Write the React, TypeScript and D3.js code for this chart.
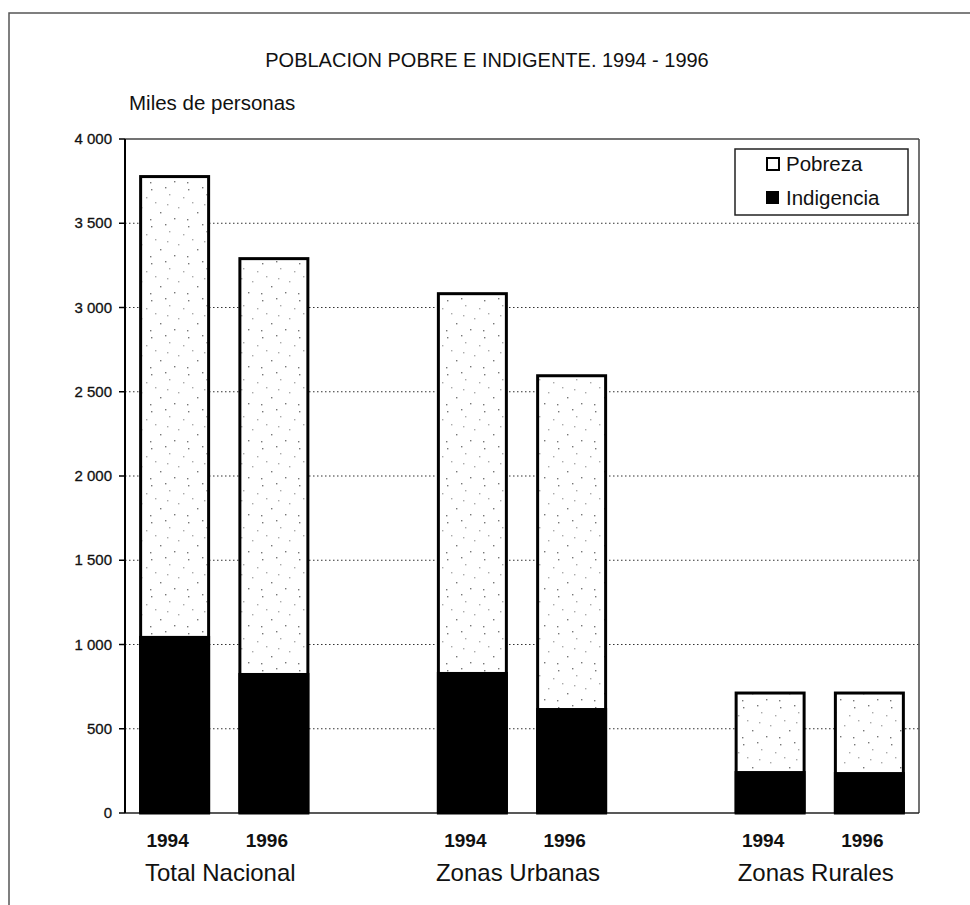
import React from "react";
import * as d3 from "d3";

const groups = ["Total Nacional", "Zonas Urbanas", "Zonas Rurales"];
const years = ["1994", "1996"];
// miles de personas, in order: group x year
const pobreza = [3777, 3290, 3082, 2595, 712, 712];
const indigencia = [1051, 831, 837, 623, 249, 243];
const yTicks = [0, 500, 1000, 1500, 2000, 2500, 3000, 3500, 4000];

const W = 970;
const H = 905;
const left = 125;
const right = 919;
const top = 139;
const bottom = 813;
const font = "'Liberation Sans', Arial, sans-serif";

// Excel-like category slots, with an empty slot between the groups
const slots: string[] = [];
groups.forEach((g, gi) => {
  years.forEach((y) => slots.push(g + "|" + y));
  if (gi < groups.length - 1) slots.push("gap" + gi);
});
const bars = groups.flatMap((g, gi) =>
  years.map((y, yi) => ({
    key: g + "|" + y,
    year: y,
    pob: pobreza[gi * years.length + yi],
    ind: indigencia[gi * years.length + yi],
  }))
);

const fmt = (v: number) => d3.format(",")(v).replace(",", " ");

const App = () => {
  const x = d3
    .scaleBand()
    .domain(slots)
    .range([left, right])
    .paddingInner(0.315)
    .paddingOuter(0.1575);
  const y = d3.scaleLinear().domain([0, 4000]).range([bottom, top]);

  // sparse, irregular stipple dots for the Pobreza fill
  const dots = [
    [3, 4], [21, 9], [12, 27], [30, 22], [17, 2], [7, 17], [26, 33], [35, 12], [2, 34], [19, 19],
  ];

  return (
    <svg
      width={W}
      height={H}
      style={{ position: "absolute", left: 0, top: 0, background: "#fff" }}
    >
      <defs>
        <pattern id="stipple" width={37} height={37} patternUnits="userSpaceOnUse">
          <rect width={37} height={37} fill="#fff" />
          {dots.map(([a, b], i) => (
            <rect key={i} x={a} y={b} width={1.4} height={1.4} fill={i % 2 ? "#aaa" : "#777"} />
          ))}
        </pattern>
      </defs>

      {/* outer frame */}
      <rect x={9} y={13} width={1000} height={1000} fill="none" stroke="#555" strokeWidth={1.5} />

      <text x={487} y={67} textAnchor="middle" fontFamily={font} fontSize={20} fill="#111">
        POBLACION POBRE E INDIGENTE. 1994 - 1996
      </text>
      <text x={129} y={110} fontFamily={font} fontSize={20.5} fill="#111">
        Miles de personas
      </text>

      {/* gridlines */}
      {yTicks.slice(1, -1).map((t) => (
        <line
          key={t}
          x1={left}
          x2={right}
          y1={y(t)}
          y2={y(t)}
          stroke="#333"
          strokeWidth={1}
          strokeDasharray="1.5,2.5"
        />
      ))}
      {/* plot border top/right */}
      <line x1={left} x2={right} y1={top} y2={top} stroke="#444" strokeWidth={1.5} />
      <line x1={right} x2={right} y1={top} y2={bottom} stroke="#444" strokeWidth={1.5} />
      <line x1={left} x2={right} y1={bottom} y2={bottom} stroke="#222" strokeWidth={1.5} />

      {/* bars */}
      {bars.map((b) => (
        <g key={b.key}>
          <rect
            x={x(b.key)}
            y={y(b.pob)}
            width={x.bandwidth()}
            height={y(0) - y(b.pob)}
            fill="url(#stipple)"
            stroke="#000"
            strokeWidth={3}
          />
          <rect
            x={(x(b.key) as number) - 1.5}
            y={y(b.ind)}
            width={x.bandwidth() + 3}
            height={y(0) - y(b.ind)}
            fill="#000"
          />
        </g>
      ))}

      {/* y axis */}
      <line x1={left} x2={left} y1={top} y2={bottom} stroke="#000" strokeWidth={2} />
      {yTicks.map((t) => (
        <g key={t}>
          <line x1={left - 6} x2={left} y1={y(t)} y2={y(t)} stroke="#000" strokeWidth={1.5} />
          <text
            x={112}
            y={y(t) + 5}
            textAnchor="end"
            fontFamily={font}
            fontSize={15}
            fill="#111"
            stroke="#111"
            strokeWidth={0.3}
          >
            {fmt(t)}
          </text>
        </g>
      ))}

      {/* year labels */}
      {bars.map((b) => (
        <text
          key={"l" + b.key}
          x={(x(b.key) as number) + x.bandwidth() / 2 - 7}
          y={847}
          textAnchor="middle"
          fontFamily={font}
          fontSize={19}
          fontWeight="bold"
          fill="#111"
        >
          {b.year}
        </text>
      ))}
      {/* group labels */}
      {groups.map((g) => {
        const a = x(g + "|" + years[0]) as number;
        const c = (x(g + "|" + years[years.length - 1]) as number) + x.bandwidth();
        return (
          <text
            key={g}
            x={(a + c) / 2 - 4}
            y={881}
            textAnchor="middle"
            fontFamily={font}
            fontSize={24}
            fill="#111"
          >
            {g}
          </text>
        );
      })}

      {/* legend */}
      <rect x={735} y={149} width={173} height={66} fill="#fff" stroke="#222" strokeWidth={1.5} />
      <rect x={767} y={158} width={12} height={12} fill="#fff" stroke="#000" strokeWidth={2} />
      <text x={786} y={171} fontFamily={font} fontSize={20.5} fill="#111">
        Pobreza
      </text>
      <rect x={766} y={191} width={13} height={13} fill="#000" />
      <text x={786} y={205} fontFamily={font} fontSize={20.5} fill="#111">
        Indigencia
      </text>
    </svg>
  );
};

export default App;
